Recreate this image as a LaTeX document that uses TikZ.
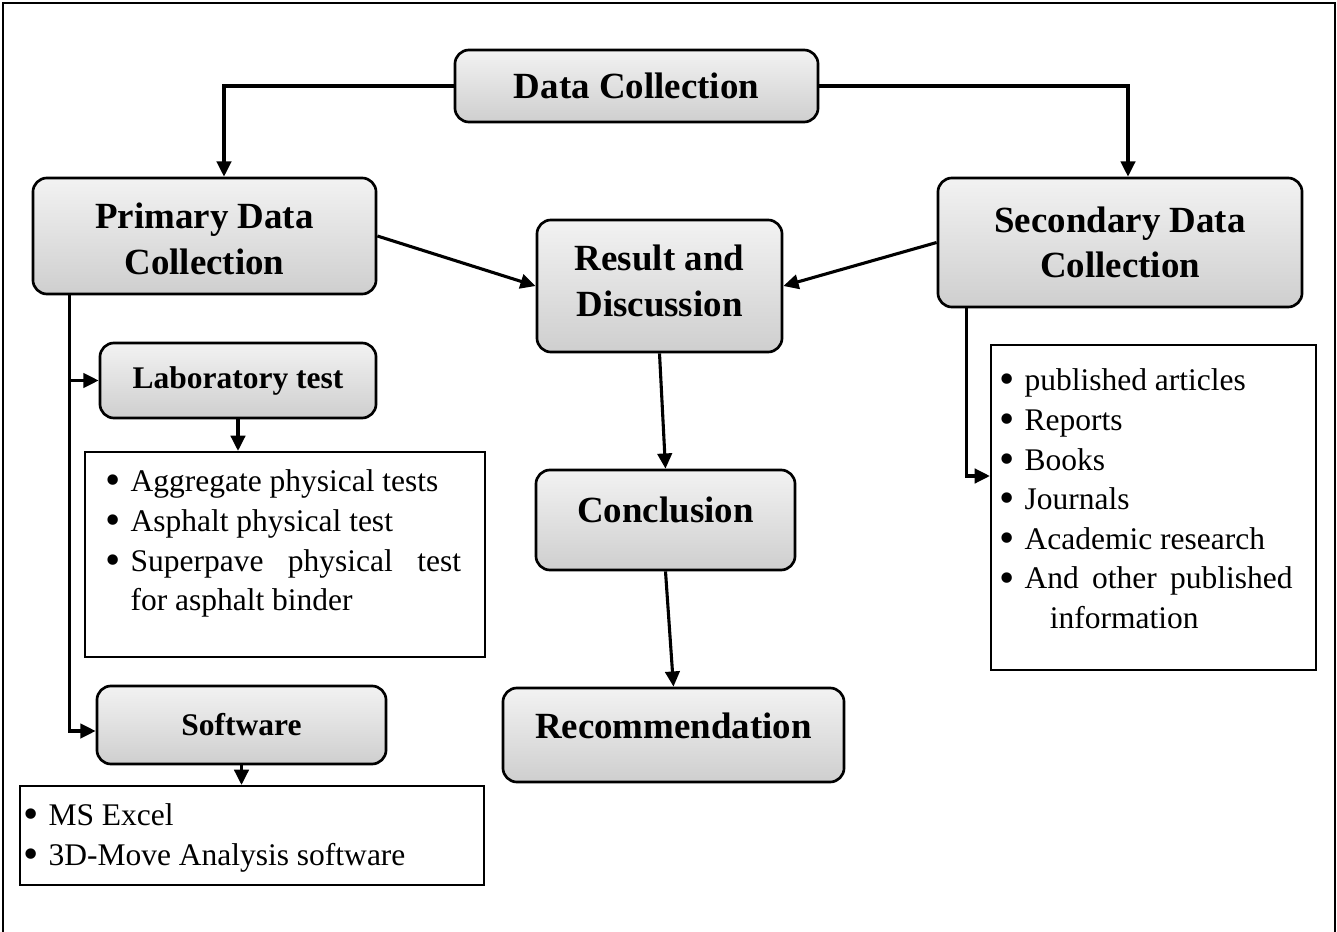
\documentclass[tikz,border=0pt]{standalone}
\usepackage{fontspec}
\setmainfont{Liberation Serif}
\usetikzlibrary{calc}
\usetikzlibrary{arrows.meta,positioning}
\newcommand\bul{\makebox[0.54cm][l]{\hspace*{-0.08cm}\raisebox{-2.2pt}{\fontsize{31}{31}\selectfont\textbullet}}}

\begin{document}
\begin{tikzpicture}[x=0.025cm,y=-0.025cm,
	stage/.style={draw,line width=1.9pt,rounded corners=0.35cm,top color=gray!10,bottom color=gray!38,align=center,inner sep=0pt,font=\fontsize{26.25}{32.5}\selectfont\bfseries},
	substage/.style={stage,font=\fontsize{22.4}{28}\selectfont\bfseries},
	listbox/.style={draw,line width=1.5pt,inner sep=0pt,font=\fontsize{22.4}{28.2}\selectfont},
	arr/.style={line width=2.2pt,-{Triangle[length=0.38cm,width=0.36cm]}}]
	\useasboundingbox (0,0) rectangle (1337,932);
	\draw[line width=1.5pt] (3,932)--(3,3)--(1335,3)--(1335,932);
	\node[stage,minimum width=9.075cm,minimum height=1.8cm] (data) at (636.5,86) {Data Collection};
	\node[stage,minimum width=8.575cm,minimum height=2.9cm] (prim) at (204.5,236) {\raisebox{-0.07cm}[\height][\depth]{Primary Data}\\\raisebox{-0.07cm}[\height][\depth]{Collection}};
	\node[stage,minimum width=9.1cm,minimum height=3.225cm] (sec) at (1120,242.5) {Secondary Data\\Collection};
	\node[stage,minimum width=6.125cm,minimum height=3.3cm] (res) at (659.5,286) {\raisebox{0.13cm}[\height][\depth]{Result and}\\\raisebox{0.13cm}[\height][\depth]{Discussion}};
	\node[stage,minimum width=6.475cm,minimum height=2.5cm] (conc) at (665.5,520) {\raisebox{0.25cm}[\height][\depth]{Conclusion}};
	\node[stage,minimum width=8.525cm,minimum height=2.35cm] (rec) at (673.5,735) {\raisebox{0.22cm}[\height][\depth]{Recommendation}};
	\node[substage,minimum width=6.9cm,minimum height=1.875cm] (lab) at (238,380.5) {Laboratory test};
	\node[substage,minimum width=7.225cm,minimum height=1.95cm] (soft) at (241.5,725) {Software};
	\node[listbox,minimum width=10cm,minimum height=5.125cm] (lablist) at (285,554.5) {\parbox[c][5.125cm][t]{8.8cm}{\vspace*{0.3cm}\strut
		\bul Aggregate physical tests\\
		\bul Asphalt physical test\\
		\bul\makebox[8.26cm][s]{Superpave physical test}\\
		\hspace*{0.54cm}for asphalt binder}};
	\node[listbox,minimum width=11.6cm,minimum height=2.475cm] (softlist) at (252,835.5) {\parbox[c][2.475cm][t]{11.25cm}{\vspace*{0.3cm}\strut
		\bul MS Excel\\
		\bul 3D-Move Analysis software}};
	\node[listbox,minimum width=8.125cm,minimum height=8.125cm] (seclist) at (1153.5,507.5) {\parbox[c][8.125cm][t]{7.525cm}{\vspace*{0.45cm}\strut
		\bul published articles\\
		\bul Reports\\
		\bul Books\\
		\bul Journals\\
		\bul Academic research\\
		\bul\makebox[6.7cm][s]{And other published}\\
		\hspace*{1.175cm}information}};
	\draw[arr] (data.west) -| ($(prim.north)+(19.5,0)$);
	\draw[arr] (data.east) -| ($(sec.north)+(8,0)$);
	\draw[arr] (prim.east) -- (res.west);
	\draw[arr] (sec.west) -- (res.east);
	\draw[arr] (res.south) -- (conc.north);
	\draw[arr] (conc.south) -- (rec.north);
	\coordinate (ptrunk) at ($(prim.south west)+(38,0)$);
	\draw[arr] (ptrunk) |- ($(soft.west)+(0,6)$);
	\draw[arr] (ptrunk |- lab.west) -- (lab.west);
	\draw[arr] (lab.south) -- (lab.south |- lablist.north);
	\draw[arr] (soft.south) -- (soft.south |- softlist.north);
	\coordinate (strunk) at ($(sec.south west)+(30,0)$);
	\draw[arr] (strunk) |- ($(seclist.west)+(0,-31.5)$);
\end{tikzpicture}
\end{document}
